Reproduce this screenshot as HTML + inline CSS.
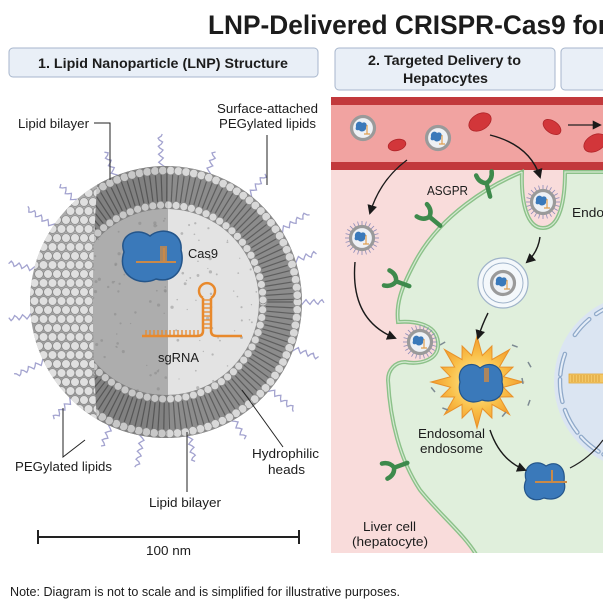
<!DOCTYPE html>
<html><head><meta charset="utf-8"><style>
html,body{margin:0;padding:0;background:#fff}
svg{display:block}
text{font-family:"Liberation Sans",sans-serif;fill:#1c1c1c}
</style></head><body>
<svg id="s" width="603" height="603" viewBox="0 0 603 603" xmlns="http://www.w3.org/2000/svg">
<defs>
<marker id="ah" viewBox="0 0 10 10" refX="8" refY="5" markerWidth="7" markerHeight="7" orient="auto-start-reverse"><path d="M0,0 L10,5 L0,10 Z" fill="#1a1a1a"/></marker>
<clipPath id="sph"><circle cx="166" cy="302" r="136"/></clipPath>
<clipPath id="cut"><path d="M100,150 Q86,302 100,460 L320,460 L320,150 Z"/></clipPath>
<clipPath id="core"><circle cx="166" cy="302" r="93"/></clipPath>
<clipPath id="rp"><rect x="331" y="97" width="272" height="456"/></clipPath>
<radialGradient id="burst" cx="0.5" cy="0.5" r="0.5"><stop offset="0" stop-color="#fff1a0"/><stop offset="0.6" stop-color="#f9c04a"/><stop offset="1" stop-color="#f29a2a"/></radialGradient>
<radialGradient id="sphg" cx="0.6" cy="0.35" r="0.7"><stop offset="0" stop-color="#d6d6d6"/><stop offset="1" stop-color="#9a9a9a"/></radialGradient>
</defs>

<text x="208" y="34" font-size="27" font-weight="bold" textLength="400" lengthAdjust="spacingAndGlyphs">LNP-Delivered CRISPR-Cas9 for</text>

<rect x="9" y="48" width="309" height="29" rx="4" fill="#e9eff7" stroke="#a7b6cc" stroke-width="1"/>
<text x="38" y="68" font-size="14" font-weight="bold" textLength="250" lengthAdjust="spacingAndGlyphs">1. Lipid Nanoparticle (LNP) Structure</text>
<rect x="335" y="48" width="220" height="42" rx="4" fill="#e9eff7" stroke="#a7b6cc" stroke-width="1"/>
<text x="368" y="65" font-size="14" font-weight="bold" textLength="153" lengthAdjust="spacingAndGlyphs">2. Targeted Delivery to</text>
<text x="403" y="83" font-size="14" font-weight="bold" textLength="85" lengthAdjust="spacingAndGlyphs">Hepatocytes</text>
<rect x="561" y="48" width="60" height="42" rx="4" fill="#e9eff7" stroke="#a7b6cc" stroke-width="1"/>

<g id="peg" stroke="#a3a3cf" stroke-width="1.3" fill="none"></g>
<circle cx="166" cy="302" r="136" fill="url(#sphg)"/>
<g id="surf" clip-path="url(#sph)"></g>
<g clip-path="url(#sph)">
 <g clip-path="url(#cut)">
  <circle cx="166" cy="302" r="136" fill="#8c8c8c"/>
  <g id="ring"></g>
  <circle cx="166" cy="302" r="93" fill="#e3e3e3"/>
  <rect x="60" y="150" width="108" height="310" fill="#000" opacity="0.17" clip-path="url(#core)"/>
  <g id="dots" clip-path="url(#core)"></g>
  <rect x="86" y="150" width="82" height="310" fill="#000" opacity="0.08"/>
 </g>
</g>
<path d="M124,252 C118,236 136,226 150,236 C162,226 183,232 181,250 C186,268 174,284 156,279 C140,287 116,276 124,252 Z" fill="#3a79ba" stroke="#24558a" stroke-width="1.5"/>
<path d="M136,262 L176,262 M164,248 L164,262" stroke="#c8894a" stroke-width="2" fill="none"/>
<rect x="160" y="246" width="7" height="16" fill="#c98a48" opacity="0.8"/>
<text x="188" y="258" font-size="13" textLength="30" lengthAdjust="spacingAndGlyphs">Cas9</text>
<g stroke="#e8892c" stroke-width="2.5" fill="none">
 <path d="M203,298 A8,8 0 1 1 211,298"/>
 <path d="M203,298 L203,331 Q203,336 197,336 L142,336"/>
 <path d="M211,298 L211,331 Q211,336 217,336 L242,336"/>
</g>
<g id="rungs" stroke="#e8892c" stroke-width="1.3"></g>
<text x="158" y="362" font-size="13" textLength="41" lengthAdjust="spacingAndGlyphs">sgRNA</text>

<g stroke="#222" stroke-width="1" fill="none">
 <path d="M94,123 L110,123 L110,180"/>
 <path d="M267,135 L267,185"/>
 <path d="M63,408 L63,457 L85,440"/>
 <path d="M242,390 L283,447"/>
 <path d="M187,432 L187,492"/>
</g>
<text x="18" y="128" font-size="13" textLength="71" lengthAdjust="spacingAndGlyphs">Lipid bilayer</text>
<text x="217" y="113" font-size="13" textLength="101" lengthAdjust="spacingAndGlyphs">Surface-attached</text>
<text x="219" y="128" font-size="13" textLength="97" lengthAdjust="spacingAndGlyphs">PEGylated lipids</text>
<text x="15" y="471" font-size="13" textLength="97" lengthAdjust="spacingAndGlyphs">PEGylated lipids</text>
<text x="252" y="458" font-size="13" textLength="67" lengthAdjust="spacingAndGlyphs">Hydrophilic</text>
<text x="268" y="474" font-size="13" textLength="37" lengthAdjust="spacingAndGlyphs">heads</text>
<text x="149" y="507" font-size="13" textLength="72" lengthAdjust="spacingAndGlyphs">Lipid bilayer</text>
<g stroke="#222" stroke-width="2"><path d="M38,537 L299,537 M38,530 L38,544 M299,530 L299,544"/></g>
<text x="146" y="555" font-size="13" textLength="45" lengthAdjust="spacingAndGlyphs">100 nm</text>

<g clip-path="url(#rp)">
 <rect x="331" y="97" width="272" height="456" fill="#f9dcdb"/>
 <rect x="331" y="97" width="272" height="73" fill="#c2393c"/>
 <rect x="331" y="105" width="272" height="57" fill="#f1a3a1"/>
 <path d="M522,172 C490,185 440,215 415,262 C400,290 396,305 398,322 C410,321 436,322 438,342 C440,360 420,365 405,362 C395,362 388,370 388,380 C390,420 400,460 420,490 C440,515 465,535 477,556 L606,556 L606,172 L565,172 C565,200 560,228 543,228 C526,228 521,200 522,172 Z" fill="#e0efdc" stroke="#8cc189" stroke-width="4"/>
 <path d="M522,172 C490,185 440,215 415,262 C400,290 396,305 398,322 C410,321 436,322 438,342 C440,360 420,365 405,362 C395,362 388,370 388,380 C390,420 400,460 420,490 C440,515 465,535 477,556 M606,172 L565,172 C565,200 560,228 543,228 C526,228 521,200 522,172" fill="none" stroke="#d5ead2" stroke-width="1.2"/>
 <circle cx="642" cy="382" r="88" fill="#dbe5f2"/>
 <g id="nuc" fill="none" stroke="#8fa9c9" stroke-width="4.5" stroke-linecap="round"></g>
 <g id="nuc2" fill="none" stroke="#e6eef8" stroke-width="2" stroke-linecap="round"></g>
 <rect x="569" y="374" width="36" height="9" fill="#f3c766" stroke="#e0a83a" stroke-width="0.8"/>
 <g stroke="#d79a30" stroke-width="0.8"><path d="M572,375v7M575,375v7M578,375v7M581,375v7M584,375v7M587,375v7M590,375v7M593,375v7M596,375v7M599,375v7"/></g>
 <path d="M570,468 Q590,458 603,440" stroke="#222" stroke-width="1.2" fill="none"/>
 <g fill="#d2363a" stroke="#b02428" stroke-width="0.8">
  <ellipse cx="480" cy="122" rx="12" ry="8" transform="rotate(-30 480 122)"/>
  <ellipse cx="397" cy="145" rx="9" ry="5.5" transform="rotate(-15 397 145)"/>
  <ellipse cx="552" cy="127" rx="10" ry="6" transform="rotate(35 552 127)"/>
  <ellipse cx="595" cy="143" rx="12" ry="8" transform="rotate(-30 595 143)"/>
 </g>
 <path d="M568,125 L600,125" stroke="#222" stroke-width="1.3" marker-end="url(#ah)"/>
 <g id="rec" fill="none" stroke="#3e8a4c" stroke-width="4.5" stroke-linecap="round"></g>
 <circle cx="503" cy="283" r="25" fill="#f4f8fb" stroke="#9fb3c9" stroke-width="1.2"/>
 <circle cx="503" cy="283" r="20" fill="none" stroke="#9fb3c9" stroke-width="1"/>
 <g id="minis"></g>
 <polygon id="star" fill="url(#burst)" stroke="#e8922a" stroke-width="1"/>
 <g id="frag" stroke="#7d8a92" stroke-width="1.5"></g>
 <path d="M460,382 C456,366 472,360 480,368 C490,360 504,366 502,382 C506,396 494,404 482,400 C470,406 456,398 460,382 Z" fill="#3a79ba" stroke="#24558a" stroke-width="1.2"/>
 <rect x="484" y="368" width="5" height="14" fill="#c98a48" opacity="0.8"/>
 <path d="M526,480 C522,466 536,458 546,466 C556,460 566,466 564,482 C568,494 556,502 544,498 C532,504 520,494 526,480 Z" fill="#3a79ba" stroke="#24558a" stroke-width="1.2"/>
 <path d="M535,482 L567,482 M552,470 L552,482" stroke="#c98a48" stroke-width="2" fill="none"/>
 <g stroke="#1a1a1a" stroke-width="1.4" fill="none" marker-end="url(#ah)">
  <path d="M407,160 Q380,180 370,213"/>
  <path d="M355,262 Q350,320 395,338"/>
  <path d="M490,135 Q530,145 540,177"/>
  <path d="M540,237 Q538,252 527,262"/>
  <path d="M488,313 Q482,325 478,338"/>
  <path d="M490,430 Q500,460 525,470"/>
 </g>
 <text x="427" y="195" font-size="13" textLength="41" lengthAdjust="spacingAndGlyphs">ASGPR</text>
 <text x="572" y="217" font-size="13" textLength="32" lengthAdjust="spacingAndGlyphs">Endo</text>
 <text x="418" y="438" font-size="13" textLength="67" lengthAdjust="spacingAndGlyphs">Endosomal</text>
 <text x="420" y="453" font-size="13" textLength="63" lengthAdjust="spacingAndGlyphs">endosome</text>
 <text x="363" y="531" font-size="13" textLength="53" lengthAdjust="spacingAndGlyphs">Liver cell</text>
 <text x="352" y="546" font-size="13" textLength="76" lengthAdjust="spacingAndGlyphs">(hepatocyte)</text>
</g>

<text x="10" y="596" font-size="12.5" textLength="390" lengthAdjust="spacingAndGlyphs">Note: Diagram is not to scale and is simplified for illustrative purposes.</text>

<script>
(function(){
var NS="http://www.w3.org/2000/svg";
function el(p,t,a){var e=document.createElementNS(NS,t);for(var k in a)e.setAttribute(k,a[k]);document.getElementById(p).appendChild(e);return e;}
var cx=166,cy=302,R=136,r=93;
for(var a=0;a<360;a+=19){
 var th=(a+((a*7)%6))*Math.PI/180, d="";
 var len=24+(a%3)*5;
 for(var s=0;s<=len;s+=2){
  var rr=R-2+s, w=Math.sin(s*0.8)*2.4;
  var x=cx+rr*Math.cos(th)-w*Math.sin(th), y=cy+rr*Math.sin(th)+w*Math.cos(th);
  d+=(s?"L":"M")+x.toFixed(1)+","+y.toFixed(1);
 }
 el("peg","path",{d:d});
}
for(var y=cy-R;y<=cy+R;y+=9){
 for(var x=cx-R;x<=120;x+=9){
  var ox=(Math.round((y-cy+R)/9)%2)?4.5:0;
  var dx=x+ox-cx,dy=y-cy; if(dx*dx+dy*dy>(R+2)*(R+2)) continue;
  el("surf","circle",{cx:x+ox,cy:y,r:4.4,fill:"#e0e0e0",stroke:"#8a8a8a","stroke-width":0.8});
 }
}
for(var a=0;a<360;a+=2.6){
 var t=a*Math.PI/180,c=Math.cos(t),s=Math.sin(t);
 el("ring","line",{x1:cx+(r+7)*c,y1:cy+(r+7)*s,x2:cx+(R-7)*c,y2:cy+(R-7)*s,stroke:"#5e5e5e","stroke-width":1.2});
}
for(var a=0;a<360;a+=3.4){
 var t=a*Math.PI/180,c=Math.cos(t),s=Math.sin(t);
 el("ring","circle",{cx:cx+(R-4.5)*c,cy:cy+(R-4.5)*s,r:4.3,fill:"#d9d9d9",stroke:"#8a8a8a","stroke-width":0.8});
}
for(var a=0;a<360;a+=4.6){
 var t=a*Math.PI/180,c=Math.cos(t),s=Math.sin(t);
 el("ring","circle",{cx:cx+(r+4)*c,cy:cy+(r+4)*s,r:4,fill:"#d9d9d9",stroke:"#8a8a8a","stroke-width":0.8});
}
var seed=7;function rnd(){seed=(seed*9301+49297)%233280;return seed/233280;}
for(var i=0;i<160;i++){el("dots","circle",{cx:cx-r+rnd()*2*r,cy:cy-r+rnd()*2*r,r:0.6+rnd()*1.1,fill:"#9a9a9a",opacity:0.6});}
for(var y=300;y<=330;y+=4) el("rungs","line",{x1:203,y1:y,x2:211,y2:y});
for(var x=146;x<=198;x+=4) el("rungs","line",{x1:x,y1:336,x2:x,y2:330});
[[200,185],[182,166],[160,142],[138,122],[118,105],[230,215],[248,236]].forEach(function(p){
 var a1=p[0]*Math.PI/180,a2=p[1]*Math.PI/180,Rn=82;
 var d="M"+(642+Rn*Math.cos(a1))+","+(382+Rn*Math.sin(a1))+" A"+Rn+","+Rn+" 0 0 0 "+(642+Rn*Math.cos(a2))+","+(382+Rn*Math.sin(a2));
 el("nuc","path",{d:d});el("nuc2","path",{d:d});
});
function rec(x,y,ang){
 var g=el("rec","g",{transform:"translate("+x+","+y+") rotate("+ang+")"});
 var p=document.createElementNS(NS,"path");p.setAttribute("d","M0,12 L0,-2 M0,-2 Q-7,-4 -8,-12 M0,-2 Q7,-4 8,-12");g.appendChild(p);
}
rec(487,185,-15);rec(431,218,-50);rec(398,282,-70);rec(396,467,-110);
function mini(x,y,spiky){
 if(spiky){for(var a=0;a<360;a+=15){var t=a*Math.PI/180;el("minis","line",{x1:x+13*Math.cos(t),y1:y+13*Math.sin(t),x2:x+17*Math.cos(t),y2:y+17*Math.sin(t),stroke:"#8a8ab8","stroke-width":0.8});}}
 el("minis","circle",{cx:x,cy:y,r:11.5,fill:"#eef1f5",stroke:"#9a9a9a","stroke-width":3.2});
 el("minis","path",{d:"M"+(x-7)+","+(y-1)+" c-1,-5 4,-7 6,-4 c3,-2 6,1 4,4 c1,4 -5,6 -7,3 c-3,1 -4,-1 -3,-3z",fill:"#3a79ba"});
 el("minis","path",{d:"M"+(x+1)+","+(y+6)+" l6,0 M"+(x+4)+","+(y-3)+" l0,9",stroke:"#e0a050","stroke-width":1.2,fill:"none"});
}
mini(363,128,false);mini(438,138,false);mini(543,202,true);mini(362,238,true);mini(503,283,false);mini(420,342,true);
var pts=[];for(var i=0;i<32;i++){var rr=i%2?27:42+(i%4==0?4:-3),t=(i*11.25-90)*Math.PI/180;pts.push((477+rr*Math.cos(t)).toFixed(1)+","+(382+rr*Math.sin(t)).toFixed(1));}
document.getElementById("star").setAttribute("points",pts.join(" "));
[[440,345,-30],[512,345,20],[528,362,60],[530,400,110],[448,410,200],[506,412,130],[522,378,80],[435,392,230]].forEach(function(f){
 var t=f[2]*Math.PI/180;el("frag","line",{x1:f[0],y1:f[1],x2:f[0]+6*Math.cos(t),y2:f[1]+6*Math.sin(t)});
});
})();
</script>
</svg>
</body></html>
